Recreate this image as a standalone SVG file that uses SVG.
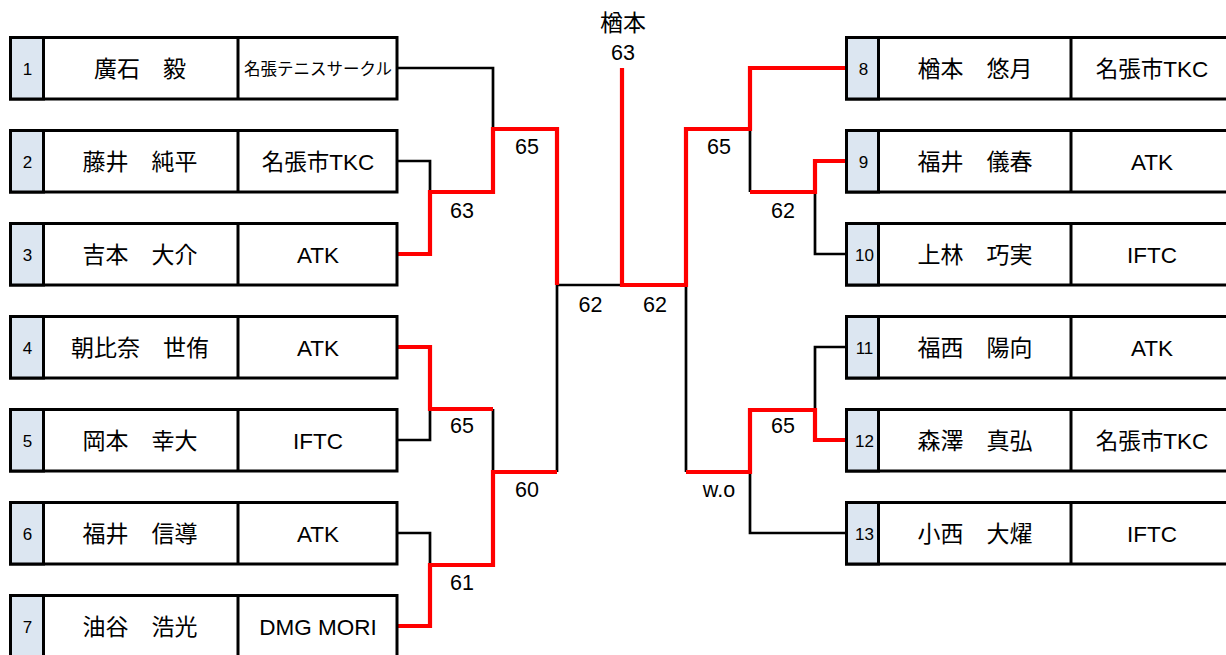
<svg xmlns="http://www.w3.org/2000/svg" width="1226" height="655" viewBox="0 0 1226 655">
<style>
.box{fill:#fff;stroke:#000;stroke-width:3}
.num{fill:#dce6f1;stroke:#000;stroke-width:3}
.div{stroke:#000;stroke-width:3}
.t{font-family:"Liberation Sans","Noto Sans CJK JP",sans-serif;fill:#000;text-anchor:middle}
.n{font-size:17px}
.nm{font-size:23px;font-family:"Noto Sans CJK JP","Liberation Sans",sans-serif}
.cl{font-size:22.5px}
.sm{font-size:16.5px;font-family:"Noto Sans CJK JP",sans-serif}
.sc{font-size:21.5px}
.bk{fill:none;stroke:#000;stroke-width:2.7}
.rd{fill:none;stroke:#ff0000;stroke-width:4.2}
</style>
<defs>
<g id="lbox">
<rect class="box" x="10.5" y="0" width="386.5" height="61.5"/>
<rect class="num" x="10.5" y="0" width="33" height="61.5"/>
<line class="div" x1="238" y1="0" x2="238" y2="61.5"/>
</g>
<g id="rbox">
<rect class="box" x="846.5" y="0" width="390" height="61.5"/>
<rect class="num" x="846.5" y="0" width="32" height="61.5"/>
<line class="div" x1="1071" y1="0" x2="1071" y2="61.5"/>
</g>
</defs>
<g id="connectors">
<path class="bk" d="M397 68H493V129"/>
<path class="bk" d="M397 161H430V192"/>
<path class="bk" d="M493 409V472"/>
<path class="bk" d="M397 440H430V409"/>
<path class="bk" d="M397 533H430V565"/>
<path class="bk" d="M557 285V472M557 285H622"/>
<path class="bk" d="M750 129V192"/>
<path class="bk" d="M846 254H815V192"/>
<path class="bk" d="M686 285V472"/>
<path class="bk" d="M846 347H815V410"/>
<path class="bk" d="M846 533H750V472"/>
<path class="rd" d="M397 254H430V192H493V129H557V285"/>
<path class="rd" d="M397 347H430V409H493"/>
<path class="rd" d="M397 626H430V565H493V472H557"/>
<path class="rd" d="M622 68V285H686V129H750V68H846"/>
<path class="rd" d="M846 161H815V192H750"/>
<path class="rd" d="M686 472H750V410H815V440H846"/>
</g>
<g id="scores">
<text class="t nm" x="623" y="31">楢本</text>
<text class="t sc" x="623" y="60">63</text>
<text class="t sc" x="462" y="218">63</text>
<text class="t sc" x="527" y="154">65</text>
<text class="t sc" x="590.5" y="312">62</text>
<text class="t sc" x="655" y="312">62</text>
<text class="t sc" x="462" y="433">65</text>
<text class="t sc" x="527" y="497">60</text>
<text class="t sc" x="462" y="590">61</text>
<text class="t sc" x="719" y="154">65</text>
<text class="t sc" x="783" y="218">62</text>
<text class="t sc" x="783" y="433">65</text>
<text class="t sc" x="719" y="497">w.o</text>
</g>
<g id="p1" transform="translate(0,37.5)"><use href="#lbox"/>
<text class="t n" x="27.5" y="37">1</text><text class="t nm" x="140" y="39">廣石　毅</text><text class="t sm" x="318" y="37">名張テニスサークル</text></g>
<g id="p2" transform="translate(0,130.5)"><use href="#lbox"/>
<text class="t n" x="27.5" y="37">2</text><text class="t nm" x="140" y="39">藤井　純平</text><text class="t cl" x="318" y="39">名張市TKC</text></g>
<g id="p3" transform="translate(0,223.5)"><use href="#lbox"/>
<text class="t n" x="27.5" y="37">3</text><text class="t nm" x="140" y="39">吉本　大介</text><text class="t cl" x="318" y="39">ATK</text></g>
<g id="p4" transform="translate(0,316.5)"><use href="#lbox"/>
<text class="t n" x="27.5" y="37">4</text><text class="t nm" x="140" y="39">朝比奈　世侑</text><text class="t cl" x="318" y="39">ATK</text></g>
<g id="p5" transform="translate(0,409.5)"><use href="#lbox"/>
<text class="t n" x="27.5" y="37">5</text><text class="t nm" x="140" y="39">岡本　幸大</text><text class="t cl" x="318" y="39">IFTC</text></g>
<g id="p6" transform="translate(0,502.5)"><use href="#lbox"/>
<text class="t n" x="27.5" y="37">6</text><text class="t nm" x="140" y="39">福井　信導</text><text class="t cl" x="318" y="39">ATK</text></g>
<g id="p7" transform="translate(0,595.5)"><use href="#lbox"/>
<text class="t n" x="27.5" y="37">7</text><text class="t nm" x="140" y="39">油谷　浩光</text><text class="t cl" x="318" y="39">DMG MORI</text></g>
<g id="p8" transform="translate(0,37.5)"><use href="#rbox"/>
<text class="t n" x="863.5" y="37">8</text><text class="t nm" x="975" y="39">楢本　悠月</text><text class="t cl" x="1152" y="39">名張市TKC</text></g>
<g id="p9" transform="translate(0,130.5)"><use href="#rbox"/>
<text class="t n" x="863.5" y="37">9</text><text class="t nm" x="975" y="39">福井　儀春</text><text class="t cl" x="1152" y="39">ATK</text></g>
<g id="p10" transform="translate(0,223.5)"><use href="#rbox"/>
<text class="t n" x="864.5" y="37">10</text><text class="t nm" x="975" y="39">上林　巧実</text><text class="t cl" x="1152" y="39">IFTC</text></g>
<g id="p11" transform="translate(0,316.5)"><use href="#rbox"/>
<text class="t n" x="864.5" y="37">11</text><text class="t nm" x="975" y="39">福西　陽向</text><text class="t cl" x="1152" y="39">ATK</text></g>
<g id="p12" transform="translate(0,409.5)"><use href="#rbox"/>
<text class="t n" x="864.5" y="37">12</text><text class="t nm" x="975" y="39">森澤　真弘</text><text class="t cl" x="1152" y="39">名張市TKC</text></g>
<g id="p13" transform="translate(0,502.5)"><use href="#rbox"/>
<text class="t n" x="864.5" y="37">13</text><text class="t nm" x="975" y="39">小西　大燿</text><text class="t cl" x="1152" y="39">IFTC</text></g>
</svg>
